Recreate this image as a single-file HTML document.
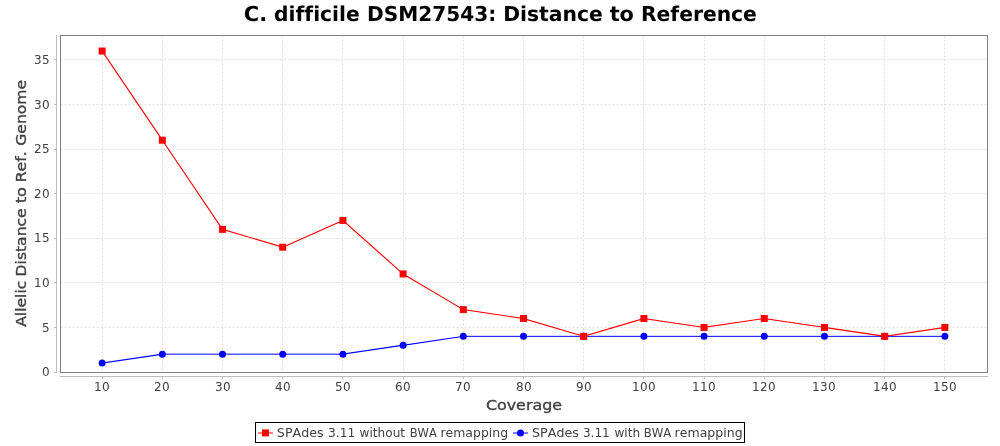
<!DOCTYPE html><html><head><meta charset="utf-8"><style>html,body{margin:0;padding:0;background:#fff;overflow:hidden}svg{display:block;will-change:transform}text{font-variant-ligatures:none;font-kerning:none}</style></head><body><svg width="1000" height="446" viewBox="0 0 1000 446">
<rect width="1000" height="446" fill="#fff"/>
<path d="M102.5 35V372M162.5 35V372M222.5 35V372M282.5 35V372M342.5 35V372M403.5 35V372M463.5 35V372M523.5 35V372M583.5 35V372M643.5 35V372M704.5 35V372M764.5 35V372M824.5 35V372M884.5 35V372M944.5 35V372M60 327.5H987M60 282.5H987M60 238.5H987M60 193.5H987M60 149.5H987M60 104.5H987M60 59.5H987" stroke="#e0e0e0" stroke-width="1" stroke-dasharray="2 2" stroke-dashoffset="-0.5" fill="none"/>
<rect x="60.5" y="35.5" width="927" height="337" fill="none" stroke="#7f7f7f" stroke-width="1" shape-rendering="crispEdges"/>
<path d="M56.5 35V373M60 376.5H988M54 372.5H56M54 327.5H56M54 282.5H56M54 238.5H56M54 193.5H56M54 149.5H56M54 104.5H56M54 59.5H56M102.5 377V379M162.5 377V379M222.5 377V379M282.5 377V379M342.5 377V379M403.5 377V379M463.5 377V379M523.5 377V379M583.5 377V379M643.5 377V379M704.5 377V379M764.5 377V379M824.5 377V379M884.5 377V379M944.5 377V379" stroke="#bdbdbd" stroke-width="1" fill="none" shape-rendering="crispEdges"/>
<g font-family="'DejaVu Sans','Liberation Sans',sans-serif" font-size="12" fill="#404040" letter-spacing="0.3652"><text x="42" y="376">0</text><text x="42" y="332">5</text><text x="34" y="287">10</text><text x="34" y="242">15</text><text x="34" y="198">20</text><text x="34" y="153">25</text><text x="34" y="109">30</text><text x="34" y="64">35</text><text x="94" y="391">10</text><text x="154" y="391">20</text><text x="215" y="391">30</text><text x="275" y="391">40</text><text x="335" y="391">50</text><text x="395" y="391">60</text><text x="455" y="391">70</text><text x="516" y="391">80</text><text x="576" y="391">90</text><text x="632" y="391">100</text><text x="692" y="391">110</text><text x="752" y="391">120</text><text x="812" y="391">130</text><text x="873" y="391">140</text><text x="933" y="391">150</text></g>
<g font-family="'DejaVu Sans','Liberation Sans',sans-serif" font-size="14" fill="#404040" stroke="#404040" stroke-width="0.35"><text transform="translate(485.91 409.8) scale(1.1351 1)">Coverage</text></g>
<g transform="translate(26 330.0) rotate(-90)" font-family="'DejaVu Sans','Liberation Sans',sans-serif" font-size="14" fill="#404040" stroke="#404040" stroke-width="0.35"><text transform="translate(3.18 0) scale(1.1144 1)">Allelic</text><text transform="translate(53.57 0) scale(1.1134 1)">Distance</text><text transform="translate(126.67 0) scale(1.1539 1)">to</text><text transform="translate(147.66 0) scale(1.1234 1)">Ref.</text><text transform="translate(184.33 0) scale(1.1107 1)">Genome</text></g>
<g text-rendering="geometricPrecision" font-family="'DejaVu Sans','Liberation Sans',sans-serif" font-weight="bold" font-size="20.3" fill="#000"><text transform="translate(243.85 21) scale(1.0345 1.014)">C.</text><text transform="translate(274.09 21) scale(0.9984 1.014)">difficile</text><text transform="translate(367.05 21) scale(0.9914 1.014)">DSM27543:</text><text transform="translate(503.13 21) scale(1.0010 1.014)">Distance</text><text transform="translate(609.63 21) scale(1.0262 1.014)">to</text><text transform="translate(640.94 21) scale(1.0001 1.014)">Reference</text></g>
<g stroke="#00f" fill="none" stroke-linecap="square"><path d="M102.14 363.08L162.33 354.17" stroke-width="1.12"/><path d="M162.33 354.17L222.53 354.17" stroke-width="1.0"/><path d="M222.53 354.17L282.72 354.17" stroke-width="1.0"/><path d="M282.72 354.17L342.92 354.17" stroke-width="1.0"/><path d="M342.92 354.17L403.11 345.25" stroke-width="1.12"/><path d="M403.11 345.25L463.31 336.34" stroke-width="1.12"/><path d="M463.31 336.34L523.50 336.34" stroke-width="1.0"/><path d="M523.50 336.34L583.69 336.34" stroke-width="1.0"/><path d="M583.69 336.34L643.89 336.34" stroke-width="1.0"/><path d="M643.89 336.34L704.08 336.34" stroke-width="1.0"/><path d="M704.08 336.34L764.28 336.34" stroke-width="1.0"/><path d="M764.28 336.34L824.47 336.34" stroke-width="1.0"/><path d="M824.47 336.34L884.67 336.34" stroke-width="1.0"/><path d="M884.67 336.34L944.86 336.34" stroke-width="1.0"/></g>
<g stroke="#f00" fill="none" stroke-linecap="square"><path d="M102.14 51.05L162.33 140.20" stroke-width="1.12"/><path d="M162.33 140.20L222.53 229.35" stroke-width="1.12"/><path d="M222.53 229.35L282.72 247.19" stroke-width="1.12"/><path d="M282.72 247.19L342.92 220.44" stroke-width="1.12"/><path d="M342.92 220.44L403.11 273.93" stroke-width="1.12"/><path d="M403.11 273.93L463.31 309.59" stroke-width="1.12"/><path d="M463.31 309.59L523.50 318.51" stroke-width="1.12"/><path d="M523.50 318.51L583.69 336.34" stroke-width="1.12"/><path d="M583.69 336.34L643.89 318.51" stroke-width="1.12"/><path d="M643.89 318.51L704.08 327.42" stroke-width="1.12"/><path d="M704.08 327.42L764.28 318.51" stroke-width="1.12"/><path d="M764.28 318.51L824.47 327.42" stroke-width="1.12"/><path d="M824.47 327.42L884.67 336.34" stroke-width="1.12"/><path d="M884.67 336.34L944.86 327.42" stroke-width="1.12"/></g>
<circle cx="102.14" cy="363.08" r="3.5" fill="#00f"/>
<circle cx="162.33" cy="354.17" r="3.5" fill="#00f"/>
<circle cx="222.53" cy="354.17" r="3.5" fill="#00f"/>
<circle cx="282.72" cy="354.17" r="3.5" fill="#00f"/>
<circle cx="342.92" cy="354.17" r="3.5" fill="#00f"/>
<circle cx="403.11" cy="345.25" r="3.5" fill="#00f"/>
<circle cx="463.31" cy="336.34" r="3.5" fill="#00f"/>
<circle cx="523.50" cy="336.34" r="3.5" fill="#00f"/>
<circle cx="583.69" cy="336.34" r="3.5" fill="#00f"/>
<circle cx="643.89" cy="336.34" r="3.5" fill="#00f"/>
<circle cx="704.08" cy="336.34" r="3.5" fill="#00f"/>
<circle cx="764.28" cy="336.34" r="3.5" fill="#00f"/>
<circle cx="824.47" cy="336.34" r="3.5" fill="#00f"/>
<circle cx="884.67" cy="336.34" r="3.5" fill="#00f"/>
<circle cx="944.86" cy="336.34" r="3.5" fill="#00f"/>
<rect x="98.64" y="47.55" width="7" height="7" fill="#f00"/>
<rect x="158.83" y="136.70" width="7" height="7" fill="#f00"/>
<rect x="219.03" y="225.85" width="7" height="7" fill="#f00"/>
<rect x="279.22" y="243.69" width="7" height="7" fill="#f00"/>
<rect x="339.42" y="216.94" width="7" height="7" fill="#f00"/>
<rect x="399.61" y="270.43" width="7" height="7" fill="#f00"/>
<rect x="459.81" y="306.09" width="7" height="7" fill="#f00"/>
<rect x="520.00" y="315.01" width="7" height="7" fill="#f00"/>
<rect x="580.19" y="332.84" width="7" height="7" fill="#f00"/>
<rect x="640.39" y="315.01" width="7" height="7" fill="#f00"/>
<rect x="700.58" y="323.92" width="7" height="7" fill="#f00"/>
<rect x="760.78" y="315.01" width="7" height="7" fill="#f00"/>
<rect x="820.97" y="323.92" width="7" height="7" fill="#f00"/>
<rect x="881.17" y="332.84" width="7" height="7" fill="#f00"/>
<rect x="941.36" y="323.92" width="7" height="7" fill="#f00"/>
<rect x="255.5" y="422.5" width="489" height="20" fill="#fff" stroke="#000" stroke-width="1" shape-rendering="crispEdges"/>
<path d="M258 433H273" stroke="#f00" stroke-width="1"/>
<rect x="262" y="429.4" width="7" height="7" fill="#f00"/>
<path d="M513 433H528" stroke="#00f" stroke-width="1"/>
<circle cx="520.5" cy="432.9" r="3.5" fill="#00f"/>
<g font-family="'DejaVu Sans','Liberation Sans',sans-serif" font-size="12" fill="#404040"><text transform="translate(276.87 436.8) scale(1.0550 1)">SPAdes</text><text transform="translate(327.97 436.8) scale(1.0204 1)">3.11</text><text transform="translate(359.59 436.8) scale(1.0086 1)">without</text><text transform="translate(409.67 436.8) scale(0.9582 1)">BWA</text><text transform="translate(440.47 436.8) scale(1.0386 1)">remapping</text><text transform="translate(531.96 436.8) scale(1.0597 1)">SPAdes</text><text transform="translate(582.93 436.8) scale(1.0062 1)">3.11</text><text transform="translate(614.49 436.8) scale(1.0069 1)">with</text><text transform="translate(643.65 436.8) scale(0.9730 1)">BWA</text><text transform="translate(674.56 436.8) scale(1.0449 1)">remapping</text></g>
</svg></body></html>
